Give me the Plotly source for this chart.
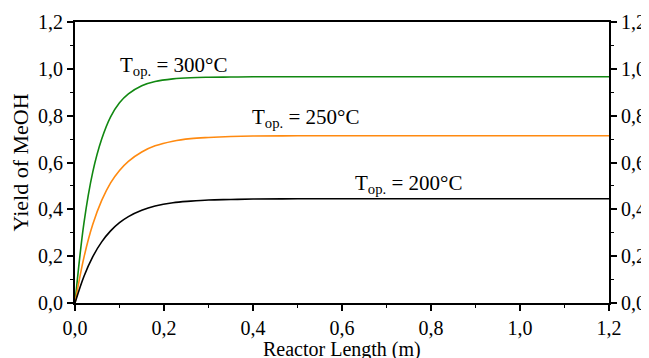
import plotly.graph_objects as go

length_m = [0, 0.02, 0.04, 0.06, 0.08, 0.10, 0.12, 0.15, 0.18, 0.22, 0.26, 0.30, 0.35, 0.40, 0.50, 0.60, 0.80, 1.00, 1.20]
yield_300 = [0, 0.34, 0.56, 0.70, 0.795, 0.855, 0.893, 0.928, 0.946, 0.957, 0.962, 0.964, 0.965, 0.966, 0.966, 0.966, 0.966, 0.966, 0.966]
yield_250 = [0, 0.194, 0.336, 0.438, 0.513, 0.566, 0.605, 0.645, 0.671, 0.691, 0.702, 0.707, 0.711, 0.713, 0.714, 0.714, 0.714, 0.714, 0.714]
yield_200 = [0, 0.113, 0.198, 0.261, 0.308, 0.343, 0.369, 0.396, 0.414, 0.428, 0.435, 0.440, 0.442, 0.444, 0.445, 0.445, 0.445, 0.445, 0.445]

x_ticks = [0.0, 0.2, 0.4, 0.6, 0.8, 1.0, 1.2]
y_ticks = [0.0, 0.2, 0.4, 0.6, 0.8, 1.0, 1.2]

labels = ["T<sub>op.</sub> = 300°C", "T<sub>op.</sub> = 250°C", "T<sub>op.</sub> = 200°C"]
label_pos = [(0.222, 1.01), (0.519, 0.79), (0.749, 0.51)]
x_title = "Reactor Length (m)"
y_title = "Yield of MeOH"

FONT = "Liberation Serif, Times New Roman, serif"

fig = go.Figure()
fig.add_trace(go.Scatter(x=length_m, y=yield_300, mode="lines", line=dict(color="#118811", width=1.6, shape="spline")))
fig.add_trace(go.Scatter(x=length_m, y=yield_250, mode="lines", line=dict(color="#ff8a10", width=1.6, shape="spline")))
fig.add_trace(go.Scatter(x=length_m, y=yield_200, mode="lines", line=dict(color="#000000", width=1.6, shape="spline")))
fig.add_trace(go.Scatter(x=length_m, y=yield_200, mode="lines", yaxis="y2", opacity=0,
                         hoverinfo="skip", line=dict(color="rgba(0,0,0,0)")))

for txt, (lx, ly) in zip(labels, label_pos):
    fig.add_annotation(x=lx, y=ly, text=txt, showarrow=False,
                       font=dict(family=FONT, size=21, color="black"))

# x-axis title as a paper annotation (placed just below the tick labels)
fig.add_annotation(x=0.5, y=-0.118, xref="paper", yref="paper", yanchor="top",
                   text=x_title, showarrow=False,
                   font=dict(family=FONT, size=20, color="black"))

axis_common = dict(
    showgrid=False, zeroline=False, showline=True, linecolor="black", linewidth=2,
    ticks="outside", ticklen=6, tickwidth=1.5, tickcolor="black",
    tickfont=dict(family=FONT, size=20, color="black"),
    tickformat=".1f", automargin=False,
    minor=dict(ticks="outside", ticklen=3, tickwidth=1.2, tickcolor="black", dtick=0.1),
)

# page has an 8px default body margin: figure is 641x350 so it fits 649x358
fig.update_layout(
    width=641, height=350,
    margin=dict(l=67, r=40, t=14, b=55),
    paper_bgcolor="white", plot_bgcolor="white",
    separators=",.",
    showlegend=False,
    xaxis=dict(range=[0, 1.2], tickvals=x_ticks, mirror=True, **axis_common),
    yaxis=dict(range=[0, 1.2], tickvals=y_ticks,
               title=dict(text=y_title, font=dict(family=FONT, size=22, color="black"), standoff=4),
               **axis_common),
    yaxis2=dict(range=[0, 1.2], tickvals=y_ticks, overlaying="y", side="right", **axis_common),
)

fig.write_html("out.html")
